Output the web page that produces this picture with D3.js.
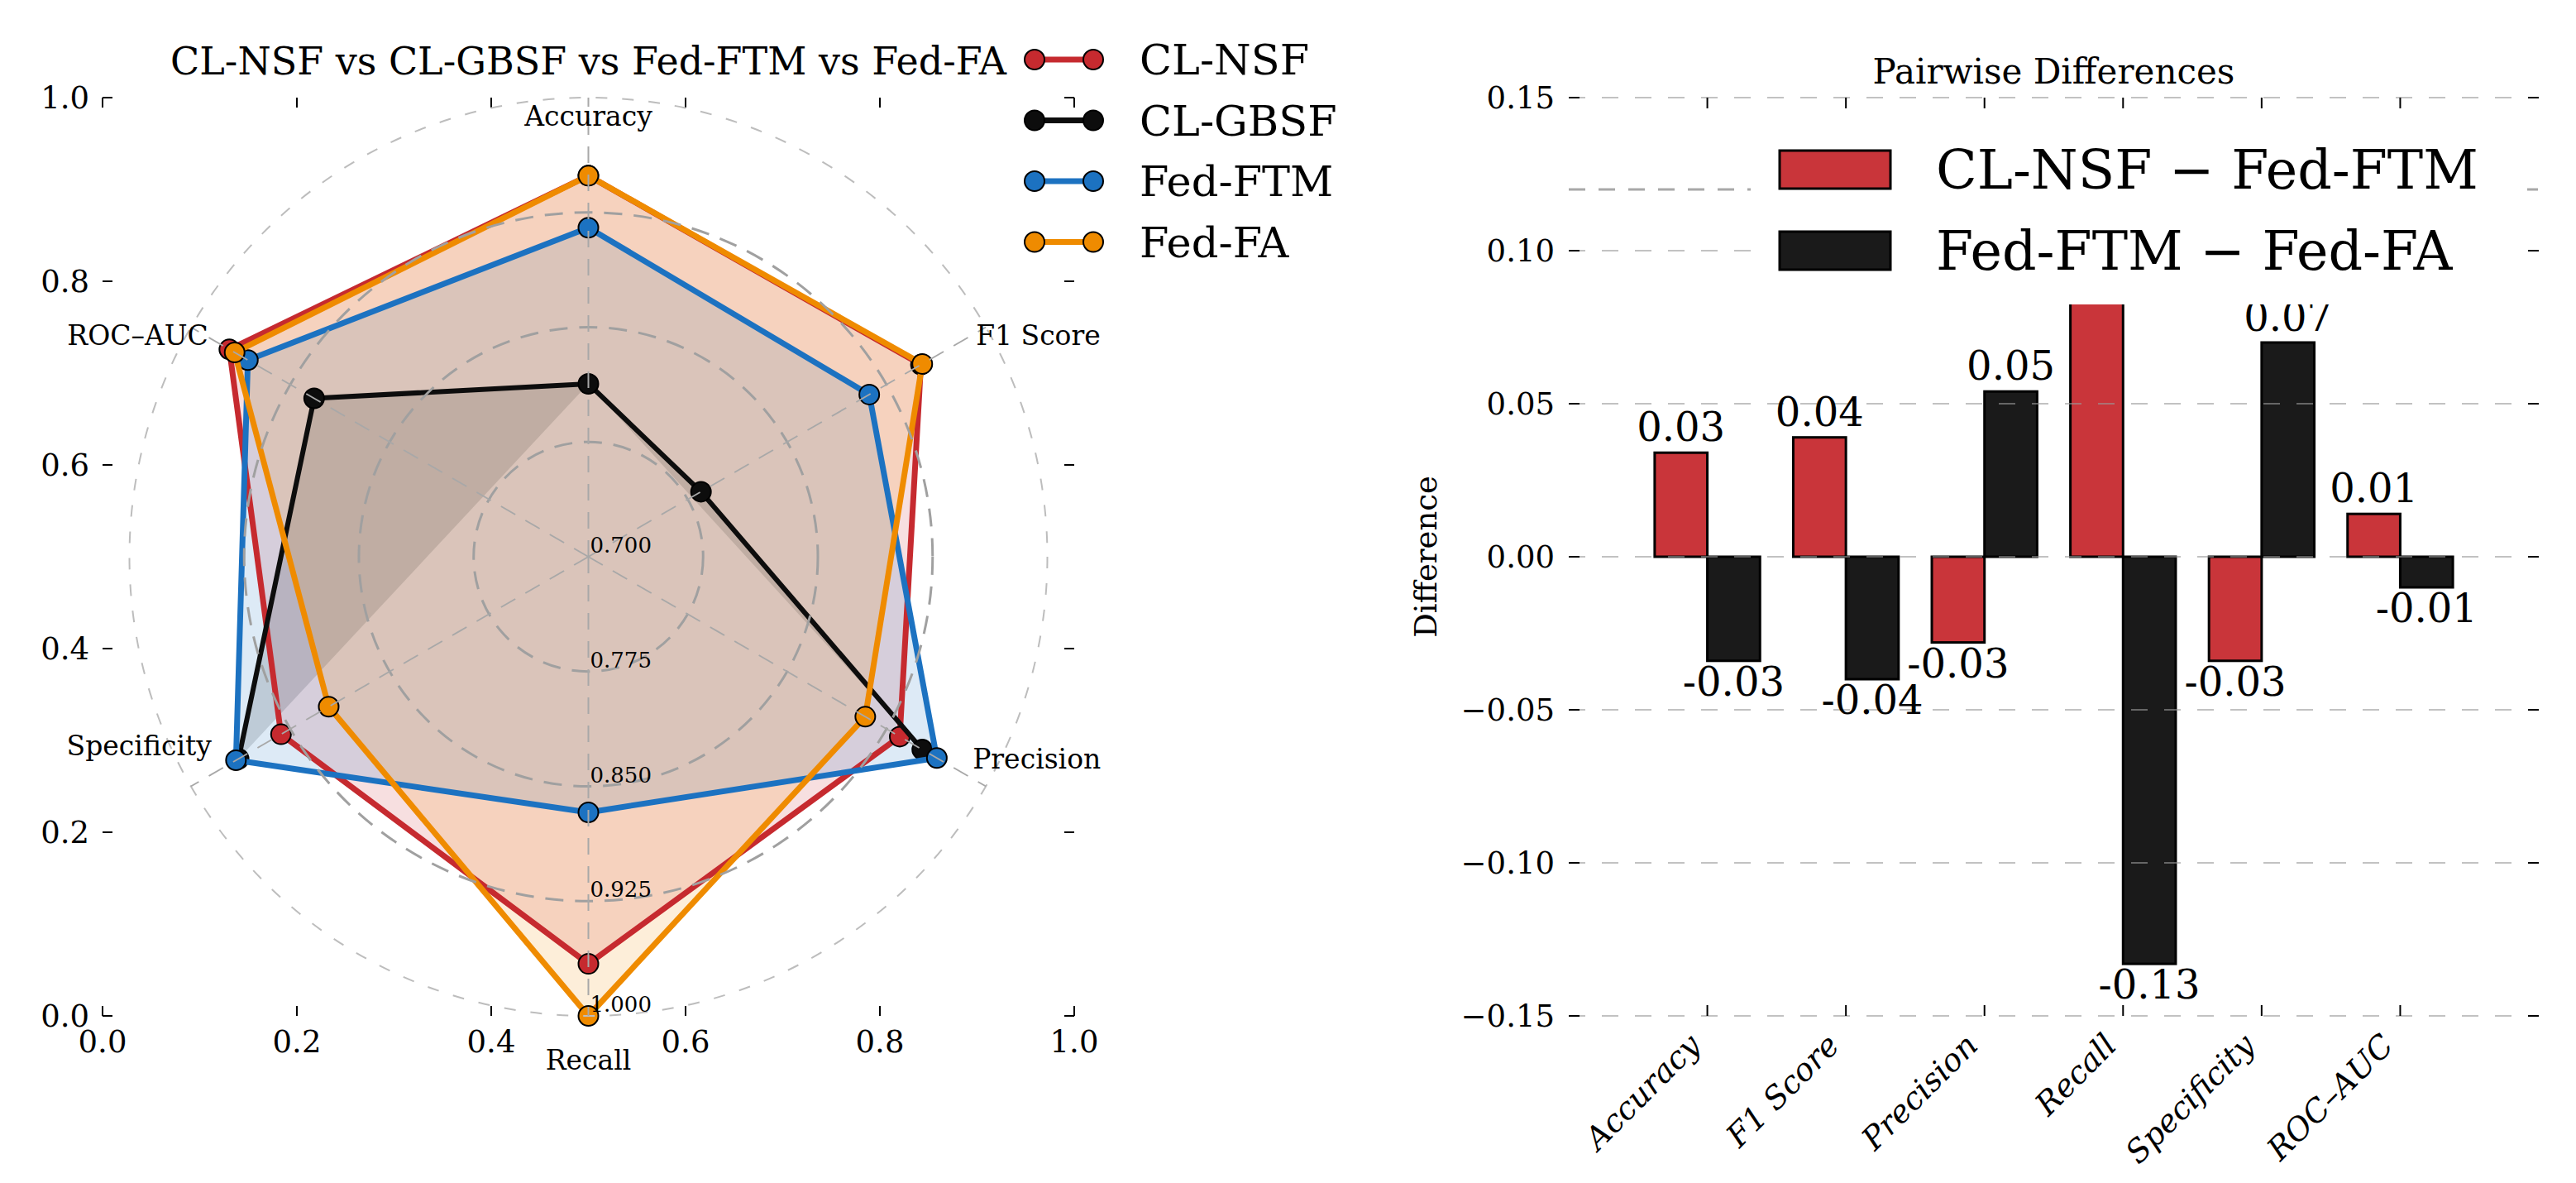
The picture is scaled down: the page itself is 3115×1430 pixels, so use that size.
<!DOCTYPE html>
<html>
<head>
<meta charset="utf-8">
<script src="https://cdn.jsdelivr.net/npm/d3@7"></script>
<style>
  body { margin: 0; background: #fff; }
  text { font-family: "DejaVu Serif", serif; fill: #000; }
</style>
</head>
<body>
<svg id="chart" width="3115" height="1430"></svg>
<script>
// ---- radar data (clockwise from the top) ----
const metrics = ["Accuracy", "F1 Score", "Precision", "Recall", "Specificity", "ROC\u2013AUC"];
const modelNames = ["CL-NSF", "CL-GBSF", "Fed-FTM", "Fed-FA"];
const clNsf  = [0.949, 0.951, 0.935, 0.966, 0.932, 0.971];
const clGbsf = [0.813, 0.785, 0.952, 0.620, 0.964, 0.907];   // recall sits below the 0.70 floor
const fedFtm = [0.915, 0.912, 0.963, 0.867, 0.966, 0.957];
const fedFa  = [0.949, 0.952, 0.909, 1.000, 0.896, 0.967];
const radialTicks = [0.700, 0.775, 0.850, 0.925, 1.000];
const frameTicks = [0.0, 0.2, 0.4, 0.6, 0.8, 1.0];

// ---- bar data ----
const barMetrics = ["Accuracy", "F1 Score", "Precision", "Recall", "Specificity", "ROC\u2013AUC"];
const diffNames = ["CL-NSF \u2212 Fed-FTM", "Fed-FTM \u2212 Fed-FA"];
const diffNsfFtm = [0.034, 0.039, -0.028, 0.099, -0.034, 0.014];
const diffFtmFa  = [-0.034, -0.040, 0.054, -0.133, 0.070, -0.010];
const diffTicks = [-0.15, -0.10, -0.05, 0.00, 0.05, 0.10, 0.15];

const modelColors = ["#c62a2f", "#0d0d0d", "#1c72c1", "#ef8b00"];
const barColors = ["#c9353a", "#1a1a1a"];

var svg = d3.select("#chart");
svg.append("rect").attr("width", 3115).attr("height", 1430).attr("fill", "#fff");

// ================= left panel: radar =================
var lx = d3.scaleLinear().domain([0, 1]).range([124, 1299]);
var ly = d3.scaleLinear().domain([0, 1]).range([1228, 118]);
var cx = lx(0.5), cy = ly(0.5);
var R = (ly(0) - ly(1)) / 2;
var rScale = d3.scaleLinear().domain([0.7, 1.0]).range([0, R]);
var angle = i => i * 2 * Math.PI / metrics.length;
function pt(i, v) {
    var r = rScale(v), a = angle(i);
    return [cx + r * Math.sin(a), cy - r * Math.cos(a)];
}

var left = svg.append("g");

// frame ticks (pointing inwards, no spines)
function frameTicksOn(g, xs, ys) {
    frameTicks.forEach(t => {
        g.append("line").attr("x1", xs(t)).attr("x2", xs(t)).attr("y1", ys.range()[1]).attr("y2", ys.range()[1] + 12);
        g.append("line").attr("x1", xs(t)).attr("x2", xs(t)).attr("y1", ys.range()[0]).attr("y2", ys.range()[0] - 12);
        g.append("line").attr("y1", ys(t)).attr("y2", ys(t)).attr("x1", xs.range()[0]).attr("x2", xs.range()[0] + 12);
        g.append("line").attr("y1", ys(t)).attr("y2", ys(t)).attr("x1", xs.range()[1]).attr("x2", xs.range()[1] - 12);
    });
    g.selectAll("line").attr("stroke", "#000").attr("stroke-width", 2);
}
frameTicksOn(left.append("g"), lx, ly);

var fmt1 = d3.format(".1f");
left.append("g").selectAll("text").data(frameTicks).enter().append("text")
    .attr("x", 108).attr("y", d => ly(d)).attr("dy", "0.36em")
    .attr("text-anchor", "end").style("font-size", "37px").text(d => fmt1(d));
left.append("g").selectAll("text").data(frameTicks).enter().append("text")
    .attr("x", d => lx(d)).attr("y", 1272)
    .attr("text-anchor", "middle").style("font-size", "37px").text(d => fmt1(d));

// series points; values under the 0.70 floor break the outline
var allSeries = [clNsf, clGbsf, fedFtm, fedFa];
var seriesPts = allSeries.map(vals => vals.map((v, i) => v >= 0.7 ? pt(i, v) : null));

// fills first (one polygon per unbroken run)
var fills = left.append("g");
seriesPts.forEach((pts, s) => {
    var closed = pts.concat([pts[0]]);
    var runs = [], cur = [];
    closed.forEach(p => {
        if (p) cur.push(p); else { if (cur.length) runs.push(cur); cur = []; }
    });
    if (cur.length) runs.push(cur);
    runs.forEach(run => {
        fills.append("path").attr("d", "M" + run.join("L") + "Z")
            .attr("fill", modelColors[s]).attr("fill-opacity", 0.15).attr("stroke", "none");
    });
});

// outlines and markers
var line = d3.line().defined(d => d != null);
seriesPts.forEach((pts, s) => {
    var col = modelColors[s];
    left.append("path").attr("d", line(pts.concat([pts[0]])))
        .attr("fill", "none").attr("stroke", col)
        .attr("stroke-width", s == 1 ? 6 : 7).attr("stroke-linejoin", "round");
    left.append("g").selectAll("circle").data(pts.filter(p => p)).enter().append("circle")
        .attr("cx", d => d[0]).attr("cy", d => d[1]).attr("r", 12)
        .attr("fill", col).attr("stroke", "#000").attr("stroke-width", 2);
});

// polar grid on top of the data
var grid = left.append("g").attr("fill", "none");
radialTicks.slice(1, 4).forEach(v => {
    grid.append("circle").attr("cx", cx).attr("cy", cy).attr("r", rScale(v))
        .attr("stroke", "#a0a0a0").attr("stroke-width", 3).attr("stroke-dasharray", "22,14");
});
grid.append("circle").attr("cx", cx).attr("cy", cy).attr("r", rScale(1.0))
    .attr("stroke", "#bdbdbd").attr("stroke-width", 2).attr("stroke-dasharray", "14,18");
metrics.forEach((m, i) => {
    var p = pt(i, 1.0);
    grid.append("line").attr("x1", cx).attr("y1", cy).attr("x2", p[0]).attr("y2", p[1])
        .attr("stroke", "#a8a8a8").attr("stroke-width", 2).attr("stroke-dasharray", "20,14");
});

// radial tick labels along the downward spoke
var fmt3 = d3.format(".3f");
left.append("g").selectAll("text").data(radialTicks).enter().append("text")
    .attr("x", cx + 2).attr("y", d => cy + rScale(d) - 5)
    .style("font-size", "26px").text(d => fmt3(d));

// metric labels
var labelShift = [[0, 34, "middle"], [-12, 21, "start"], [-16, -22, "start"],
                  [0, 65, "middle"], [25, -38, "end"], [21, 21, "end"]];
metrics.forEach((m, i) => {
    var p = pt(i, 1.0);
    left.append("text").attr("x", p[0] + labelShift[i][0]).attr("y", p[1] + labelShift[i][1])
        .attr("text-anchor", labelShift[i][2]).style("font-size", "33px").text(m);
});

left.append("text").attr("x", cx).attr("y", 90).attr("text-anchor", "middle")
    .style("font-size", "46px").text("CL-NSF vs CL-GBSF vs Fed-FTM vs Fed-FA");

// legend
var leg = left.append("g");
modelNames.forEach((n, k) => {
    var y = 72 + k * 73.5;
    leg.append("line").attr("x1", 1251).attr("x2", 1322).attr("y1", y).attr("y2", y)
        .attr("stroke", modelColors[k]).attr("stroke-width", 7);
    [1251, 1322].forEach(x => leg.append("circle").attr("cx", x).attr("cy", y).attr("r", 12)
        .attr("fill", modelColors[k]).attr("stroke", "#000").attr("stroke-width", 2));
    leg.append("text").attr("x", 1378).attr("y", y).attr("dy", "0.36em")
        .style("font-size", "51px").text(n);
});

// ================= right panel: bars =================
var bx = d3.scaleLinear().domain([-1, 6]).range([1897, 3070]);
var by = d3.scaleLinear().domain([-0.15, 0.15]).range([1228, 118]);
var bw = bx(0.38) - bx(0);
var right = svg.append("g");

// bars
var barSets = [diffNsfFtm, diffFtmFa];
barSets.forEach((vals, s) => {
    right.append("g").selectAll("rect").data(vals).enter().append("rect")
        .attr("x", (d, i) => s == 0 ? bx(i) - bw : bx(i))
        .attr("y", d => by(Math.max(d, 0)))
        .attr("width", bw)
        .attr("height", d => Math.abs(by(d) - by(0)))
        .attr("fill", barColors[s]).attr("stroke", "#000").attr("stroke-width", 3);
});

// grid over the bars
var bgrid = right.append("g");
diffTicks.forEach(t => {
    bgrid.append("line").attr("x1", bx(-1)).attr("x2", bx(6)).attr("y1", by(t)).attr("y2", by(t))
        .attr("stroke", "#9a9a9a").attr("stroke-opacity", 0.6).attr("stroke-width", 2).attr("stroke-dasharray", "20,20");
});
bgrid.append("line").attr("x1", bx(-1)).attr("x2", bx(6)).attr("y1", by(0.12)).attr("y2", by(0.12))
    .attr("stroke", "#a8a8a8").attr("stroke-width", 3).attr("stroke-dasharray", "20,16");

// value labels (plain hyphen for negatives)
var fmt2 = d3.format(".2f");
barSets.forEach((vals, s) => {
    right.append("g").selectAll("text").data(vals).enter().append("text")
        .attr("x", (d, i) => s == 0 ? bx(i) - bw / 2 : bx(i) + bw / 2)
        .attr("y", d => d >= 0 ? by(d) - 14 : by(d) + 42)
        .attr("text-anchor", "middle").style("font-size", "48px")
        .text(d => fmt2(d).replace("\u2212", "-"));
});

// ticks
var tk = right.append("g").attr("stroke", "#000").attr("stroke-width", 2);
diffTicks.forEach(t => {
    tk.append("line").attr("x1", bx(-1)).attr("x2", bx(-1) + 13).attr("y1", by(t)).attr("y2", by(t));
    tk.append("line").attr("x1", bx(6)).attr("x2", bx(6) - 13).attr("y1", by(t)).attr("y2", by(t));
});
barMetrics.forEach((m, i) => {
    tk.append("line").attr("x1", bx(i)).attr("x2", bx(i)).attr("y1", by(0.15)).attr("y2", by(0.15) + 13);
    tk.append("line").attr("x1", bx(i)).attr("x2", bx(i)).attr("y1", by(-0.15)).attr("y2", by(-0.15) - 13);
});

right.append("g").selectAll("text").data(diffTicks).enter().append("text")
    .attr("x", 1880).attr("y", d => by(d)).attr("dy", "0.36em")
    .attr("text-anchor", "end").style("font-size", "37px")
    .text(d => fmt2(d));

right.append("g").selectAll("text").data(barMetrics).enter().append("text")
    .attr("transform", (d, i) => "translate(" + (bx(i) - 6) + ",1266) rotate(-45)")
    .attr("text-anchor", "end").style("font-size", "38px").style("font-style", "italic")
    .text(d => d);

right.append("text").attr("transform", "translate(1737," + by(0) + ") rotate(-90)")
    .attr("text-anchor", "middle").style("font-size", "37px").text("Difference");

right.append("text").attr("x", (bx(-1) + bx(6)) / 2).attr("y", 101).attr("text-anchor", "middle")
    .style("font-size", "42px").text("Pairwise Differences");

// legend with opaque white box
var bleg = right.append("g");
bleg.append("rect").attr("x", 2117).attr("y", 140).attr("width", 939).attr("height", 228).attr("fill", "#fff");
diffNames.forEach((n, k) => {
    var y = [205, 303][k];
    bleg.append("rect").attr("x", 2152).attr("y", y - 23).attr("width", 134).attr("height", 46)
        .attr("fill", barColors[k]).attr("stroke", "#000").attr("stroke-width", 3);
    bleg.append("text").attr("x", 2341).attr("y", y + 23).style("font-size", "65px").text(n);
});
</script>
</body>
</html>
